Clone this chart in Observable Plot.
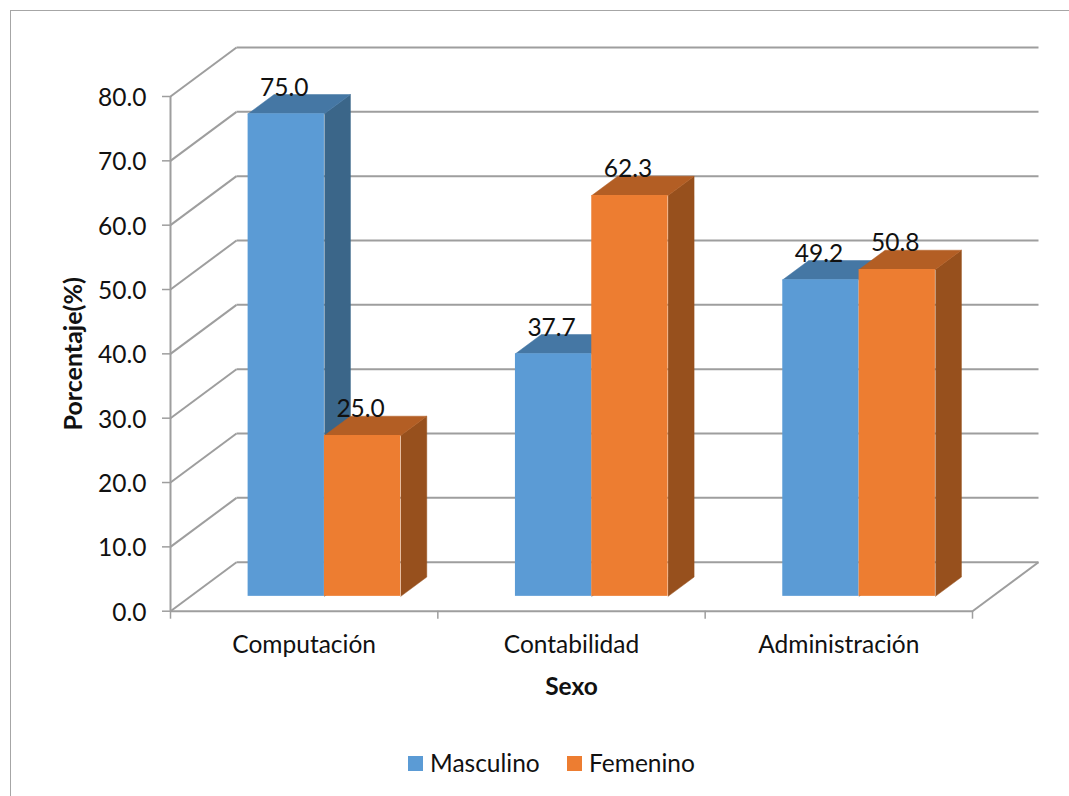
<!DOCTYPE html>
<html lang="es">
<head>
<meta charset="utf-8">
<script src="https://cdn.jsdelivr.net/npm/d3@7"></script>
<script src="https://cdn.jsdelivr.net/npm/@observablehq/plot@0.6"></script>
<style>
  html, body { margin: 0; padding: 0; background: #fff; overflow: hidden; width: 1069px; height: 796px; }
  #border { position: absolute; left: 10px; top: 10px; width: 1100px; height: 820px; border: 1.5px solid #a6a6a6; box-sizing: border-box; }
  #chart { position: relative; width: 1069px; }
  #chart svg { display: block; background: transparent; }
  #legend { position: relative; height: 51px; font-family: Lato, sans-serif; font-size: 24.5px; color: #111; }
  #legend .sw { position: absolute; top: 11px; width: 15px; height: 15px; }
  #legend .tx { position: absolute; top: 4px; line-height: 28px; white-space: nowrap; }
</style>
</head>
<body>
<div id="border"></div>
<div id="chart"></div>
<div id="legend"></div>
<script>
const categories = ["Computación", "Contabilidad", "Administración"];
const seriesNames = ["Masculino", "Femenino"];
const masculino = [75.0, 37.7, 49.2];
const femenino = [25.0, 62.3, 50.8];
const seriesValues = [masculino, femenino];
const frontColors = ["#5B9BD5", "#ED7D31"];
const sideColors = ["#3B6689", "#97501D"];
const topColors = ["#4577A4", "#B35E24"];
const yTicks = [0, 10, 20, 30, 40, 50, 60, 70, 80];
const xTicks = [0, 1, 2, 3];

const gridColor = "#9e9e9e";
const font = "Lato, sans-serif";
const fontSize = 24.5;

// Oblique projection of the chart's depth axis, in data units
const depthX = 0.2469, depthY = 7.616;
const px = (x, d) => x + d * depthX;
const py = (y, d) => y + d * depthY;
const barWidth = 0.2855, gap = 0.2155;
const d0 = 0.303, d1 = 0.697;

const bars = seriesValues.flatMap((vals, s) => vals.map((v, c) => ({
  s, c, v, label: v.toFixed(1),
  xl: c + gap + s * barWidth,
  xr: c + gap + (s + 1) * barWidth
})));

function faces(b) {
  const side = [[b.xr, d0, 0], [b.xr, d1, 0], [b.xr, d1, b.v], [b.xr, d0, b.v]]
    .map(([x, d, y]) => ({id: `side${b.s}${b.c}`, x: px(x, d), y: py(y, d)}));
  const top = [[b.xl, d0], [b.xl, d1], [b.xr, d1], [b.xr, d0]]
    .map(([x, d]) => ({id: `top${b.s}${b.c}`, x: px(x, d), y: py(b.v, d)}));
  return {side, top};
}

const barMarks = seriesNames.flatMap((_, s) => {
  const group = bars.filter(b => b.s === s);
  const all = group.map(faces);
  return [
    Plot.line(all.flatMap(f => f.side), {x: "x", y: "y", z: "id", fill: sideColors[s], stroke: sideColors[s], strokeWidth: 0.5}),
    Plot.line(all.flatMap(f => f.top), {x: "x", y: "y", z: "id", fill: topColors[s], stroke: topColors[s], strokeWidth: 0.5}),
    Plot.rect(group, {
      x1: b => px(b.xl, d0), x2: b => px(b.xr, d0),
      y1: () => py(0, d0), y2: b => py(b.v, d0),
      fill: frontColors[s]
    })
  ];
});

const chart = Plot.plot({
  width: 1069,
  height: 745,
  marginLeft: 170,
  marginRight: 31,
  marginTop: 47,
  marginBottom: 134.3,
  x: {domain: [0, 3 + depthX], axis: null},
  y: {domain: [0, 80 + depthY], axis: null},
  style: {fontFamily: font, fontSize: fontSize + "px", color: "#111", background: "transparent", overflow: "visible"},
  marks: [
    // back wall
    Plot.link(yTicks, {x1: depthX, x2: 3 + depthX, y1: t => py(t, 1), y2: t => py(t, 1), stroke: gridColor, strokeWidth: 2}),
    // side wall
    Plot.link(yTicks, {x1: 0, x2: depthX, y1: t => t, y2: t => py(t, 1), stroke: gridColor, strokeWidth: 2}),
    // floor
    Plot.link([0], {x1: 0, x2: 3, y1: 0, y2: 0, stroke: gridColor, strokeWidth: 2}),
    Plot.link([0], {x1: 3, x2: 3 + depthX, y1: 0, y2: depthY, stroke: gridColor, strokeWidth: 2}),
    Plot.ruleX([0], {y1: 0, y2: 80, stroke: gridColor, strokeWidth: 2}),
    Plot.axisY({ticks: yTicks, tickFormat: () => "", tickSize: 8, stroke: gridColor, strokeWidth: 1.5, label: null}),
    Plot.axisY({ticks: yTicks, tickFormat: d => d.toFixed(1), tickSize: 0, tickPadding: 24, dy: 1.5, fill: "#111", label: null, fontSize}),
    Plot.axisX({ticks: xTicks, tickFormat: () => "", tickSize: 8, stroke: gridColor, strokeWidth: 1.5, label: null}),
    Plot.axisX({ticks: [0.5, 1.5, 2.5], tickFormat: d => categories[Math.floor(d)], tickSize: 0, tickPadding: 24, fill: "#111", label: null, fontSize}),
    ...barMarks,
    Plot.text(bars, {
      x: b => px((b.xl + b.xr) / 2, d0),
      y: b => py(b.v, d0),
      text: "label",
      dy: -26,
      dx: -2,
      fill: "#111",
      fontSize
    }),
    Plot.text(["Porcentaje(%)"], {y: [40], frameAnchor: "left", textAnchor: "middle", dx: -97, rotate: -90, fontWeight: "bold", fontSize: 25, fill: "#111"}),
    Plot.text(["Sexo"], {x: [1.5], frameAnchor: "bottom", dy: 84, fontWeight: "bold", fontSize: 24.5, fill: "#111"})
  ]
});
document.getElementById("chart").append(chart);

const legend = document.getElementById("legend");
const lefts = [[408, 430], [567, 589]];
seriesNames.forEach((name, i) => {
  const sw = document.createElement("span");
  sw.className = "sw"; sw.style.left = lefts[i][0] + "px"; sw.style.background = frontColors[i];
  const tx = document.createElement("span");
  tx.className = "tx"; tx.style.left = lefts[i][1] + "px"; tx.textContent = name;
  legend.append(sw, tx);
});
</script>
</body>
</html>
